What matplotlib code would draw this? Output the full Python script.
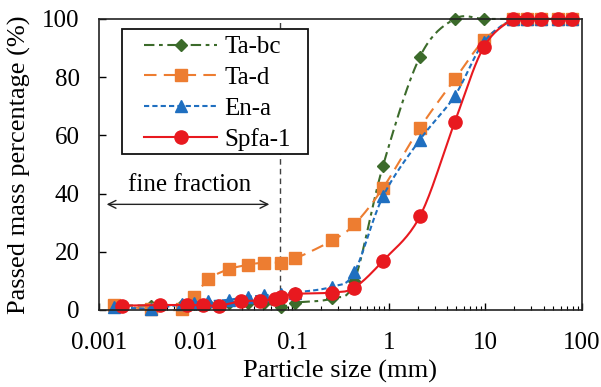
import numpy as np
import matplotlib
matplotlib.use("Agg")
import matplotlib.pyplot as plt
from matplotlib.patches import Rectangle

plt.rcParams['font.family'] = ['Liberation Serif', 'DejaVu Serif']
plt.rcParams['mathtext.fontset'] = 'stix'

# ---------------- data ----------------
coarse_sizes = [0.26, 0.44, 0.87, 2.1, 4.8, 9.6, 19.5, 27, 37.5, 56, 78]

tabc_x = [0.00144, 0.00344, 0.0073, 0.0097, 0.0136, 0.022, 0.0348, 0.051, 0.0773, 0.108] + coarse_sizes
tabc_y = [1.5, 1.5, 1.8, 2.0, 2.0, 2.5, 2.5, 2.5, 1.0, 2.5, 4.0, 10.0, 49.5, 87.0, 100, 100, 100, 100, 100, 100, 100]

tad_x = [0.00144, 0.00344, 0.0073, 0.0097, 0.0136, 0.022, 0.0348, 0.051, 0.0773, 0.108] + coarse_sizes
tad_y = [1.7, 0.3, 0.3, 4.6, 10.6, 14.0, 15.5, 16.3, 16.3, 17.7, 23.9, 29.4, 41.9, 62.6, 79.2, 92.6, 100, 100, 100, 100, 100]

ena_x = [0.00144, 0.00344, 0.0073, 0.0097, 0.0136, 0.022, 0.0348, 0.051, 0.0773, 0.108] + coarse_sizes
ena_y = [1.0, 0.5, 2.0, 2.5, 3.0, 3.5, 4.5, 5.0, 5.5, 6.0, 8.0, 13.0, 39.0, 58.5, 73.5, 92.0, 100, 100, 100, 100, 100]

spfa_x = [0.00173, 0.00425, 0.0082, 0.0118, 0.0174, 0.0295, 0.0467, 0.066, 0.077, 0.106] + coarse_sizes
spfa_y = [1.5, 1.7, 1.7, 1.7, 1.5, 3.0, 3.2, 3.8, 4.3, 5.5, 6.0, 7.7, 16.9, 32.2, 64.5, 90.3, 100, 100, 100, 100, 100]

labels = ['Ta-bc', 'Ta-d', 'En-a', 'Spfa-1']
fine_limit = 0.075
arrow_left, arrow_right, arrow_y = 0.0012, 0.058, 36.3
fine_text_x, fine_text_y = 0.0086, 42.8


def smooth(xs, ys, n=20):
    """Catmull-Rom spline through points in (log10 x, y) space."""
    lx = np.log10(np.asarray(xs, float))
    y = np.asarray(ys, float)
    P = np.column_stack([lx, y])
    P = np.vstack([P[0] * 2 - P[1], P, P[-1] * 2 - P[-2]])
    out = []
    t = np.linspace(0, 1, n, endpoint=False)[:, None]
    for i in range(1, len(P) - 2):
        p0, p1, p2, p3 = P[i - 1], P[i], P[i + 1], P[i + 2]
        seg = 0.5 * ((2 * p1) + (-p0 + p2) * t + (2 * p0 - 5 * p1 + 4 * p2 - p3) * t ** 2
                     + (-p0 + 3 * p1 - 3 * p2 + p3) * t ** 3)
        out.append(seg)
    out.append(P[-2][None, :])
    out = np.vstack(out)
    return 10 ** out[:, 0], out[:, 1]


fig = plt.figure(figsize=(6.01, 3.87), dpi=100)
ax = fig.add_axes([0.1647, 0.199, 0.8037, 0.752])

series = [
    (tabc_x, tabc_y, '#3C6B2B', 'D', 6.5, (0, (5, 2.2, 1.8, 2.2))),
    (tad_x, tad_y, '#ED7D31', 's', 8.5, (0, (6, 3.5))),
    (ena_x, ena_y, '#1F6FC0', '^', 8, (0, (2.5, 1.5))),
    (spfa_x, spfa_y, '#E8191F', 'o', 9.5, '-'),
]

handles = []
for (xs, ys, c, m, ms, ls), lab in zip(series, labels):
    sx, sy = smooth(xs, ys)
    ax.plot(sx, sy, color=c, lw=1.5, ls=ls, clip_on=False)
    ax.plot(xs, ys, ls='none', marker=m, ms=ms, color=c, mec=c, clip_on=False)
    h, = ax.plot([], [], color=c, lw=1.5, ls=ls, marker=m, ms=ms, mec=c)
    handles.append(h)

ax.axvline(fine_limit, color='#404040', lw=1.0, ls=(0, (4, 3)), zorder=0.5)
ax.annotate('', xy=(arrow_left, arrow_y), xytext=(arrow_right, arrow_y),
            arrowprops=dict(arrowstyle='<->', lw=1.0, color='#222222',
                            shrinkA=0, shrinkB=0, mutation_scale=14))
ax.text(fine_text_x, fine_text_y, 'fine fraction', ha='center', va='center', fontsize=18)

ax.set_xscale('log')
ax.set_xlim(0.001, 100)
ax.set_ylim(0, 100)
ax.set_yticks([0, 20, 40, 60, 80, 100])
ax.set_xticks([0.001, 0.01, 0.1, 1, 10, 100])
ax.set_xticklabels(['0.001', '0.01', '0.1', '1', '10', '100'])
ax.tick_params(axis='both', which='major', direction='in', length=5, width=1.0,
               labelsize=18)
ax.tick_params(axis='x', which='major', pad=16)
ax.tick_params(axis='y', which='major', pad=14)
ax.tick_params(axis='x', which='minor', direction='in', length=3, width=0.8)
ax.tick_params(top=False, right=False)
for sp in ax.spines.values():
    sp.set_linewidth(1.2)
    sp.set_color('#222222')

ax.set_xlabel('Particle size (mm)', fontsize=19, labelpad=4)
ax.set_ylabel('Passed mass percentage (%)', fontsize=19, labelpad=8)

# legend box (drawn separately for its wider padding)
box = Rectangle((0.0476, 0.536), 0.3851, 0.430, transform=ax.transAxes,
                facecolor='white', edgecolor='#111111', lw=1.3, zorder=4)
ax.add_patch(box)
leg = ax.legend(handles, labels, loc='upper left', bbox_to_anchor=(0.094, 0.942),
                fontsize=18, frameon=False, handlelength=2.9, handletextpad=0.3,
                labelspacing=0.33, borderpad=0, borderaxespad=0)
leg.set_zorder(5)

fig.savefig('out.png', dpi=100)
